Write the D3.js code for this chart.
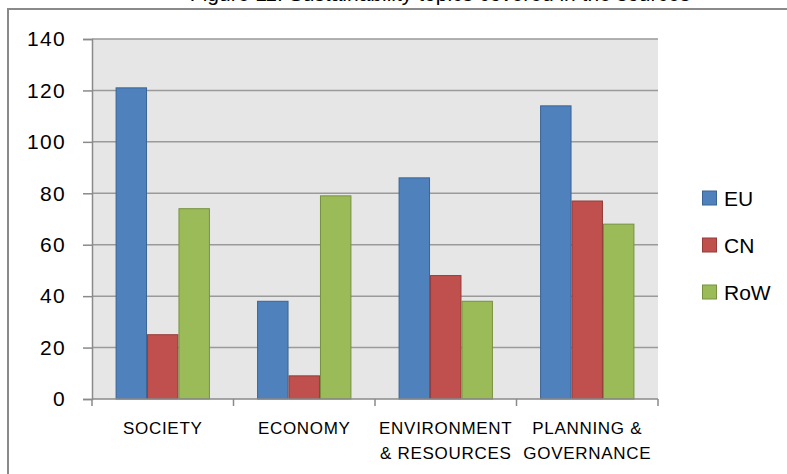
<!DOCTYPE html>
<html>
<head>
<meta charset="utf-8">
<script src="https://cdn.jsdelivr.net/npm/d3@7"></script>
<style>
  html, body { margin: 0; padding: 0; background: #ffffff; }
  svg { display: block; }
</style>
</head>
<body>
<svg id="chart" width="787" height="474"></svg>
<script>
// Sustainability topics by source region
const categories = ["SOCIETY", "ECONOMY", "ENVIRONMENT\n& RESOURCES", "PLANNING &\nGOVERNANCE"];
const seriesNames = ["EU", "CN", "RoW"];
const euValues  = [121, 38, 86, 114];
const cnValues  = [25, 9, 48, 77];
const rowValues = [74, 79, 38, 68];
const yTicks = [0, 20, 40, 60, 80, 100, 120, 140];
const titleText = "Figure 11: Sustainability topics covered in the sources";

const fills   = ["#4f81bd", "#c0504d", "#9bbb59"];
const strokes = ["#3a6494", "#943c3a", "#76913f"];
const seriesValues = [euValues, cnValues, rowValues];

const svg = d3.select("#chart");
const plot = { left: 92, right: 658, top: 39, bottom: 399 };

// Title (sits above the frame, only its lower edge shows)
svg.append("text")
  .attr("x", 440).attr("y", 1)
  .attr("text-anchor", "middle")
  .attr("font-family", "Liberation Sans, Arial, sans-serif")
  .attr("font-size", 21)
  .attr("fill", "#000")
  .text(titleText);

// Outer frame
svg.append("path")
  .attr("d", "M8,480 L8,9 L800,9")
  .attr("fill", "none")
  .attr("stroke", "#8a8a8a")
  .attr("stroke-width", 2);

const y = d3.scaleLinear().domain([0, 140]).range([plot.bottom, plot.top]);
const x0 = d3.scaleBand().domain(categories).range([plot.left, plot.right]).paddingInner(0).paddingOuter(0);
const x1 = d3.scaleBand().domain(seriesNames).range([0, x0.bandwidth()]).paddingInner(0).paddingOuter(0.75);

// Plot background
svg.append("rect")
  .attr("x", plot.left).attr("y", plot.top)
  .attr("width", plot.right - plot.left).attr("height", plot.bottom - plot.top)
  .attr("fill", "#e6e6e6");

// Horizontal gridlines
svg.append("g")
  .selectAll("line")
  .data(yTicks.filter(d => d > 0))
  .join("line")
  .attr("x1", plot.left).attr("x2", plot.right)
  .attr("y1", d => y(d)).attr("y2", d => y(d))
  .attr("stroke", "#9a9a9a")
  .attr("stroke-width", 1.5);

// Bars
const groups = svg.append("g")
  .selectAll("g")
  .data(categories)
  .join("g")
  .attr("transform", d => `translate(${x0(d)},0)`);

groups.selectAll("rect")
  .data((c, ci) => seriesNames.map((s, si) => ({ s, si, v: seriesValues[si][ci] })))
  .join("rect")
  .attr("x", d => x1(d.s) + 0.5)
  .attr("y", d => y(d.v))
  .attr("width", x1.bandwidth() - 1)
  .attr("height", d => y(0) - y(d.v))
  .attr("fill", d => fills[d.si])
  .attr("stroke", d => strokes[d.si])
  .attr("stroke-width", 1);

// Y axis
const yAxis = svg.append("g")
  .attr("transform", `translate(${plot.left},0)`)
  .call(d3.axisLeft(y).tickValues(yTicks).tickSize(9).tickPadding(17).tickFormat(d3.format("d")));
yAxis.select(".domain").attr("stroke", "#8a8a8a").attr("stroke-width", 1.5);
yAxis.selectAll(".tick line").attr("stroke", "#8a8a8a").attr("stroke-width", 1.5);
yAxis.selectAll(".tick text")
  .attr("font-family", "Liberation Sans, Arial, sans-serif")
  .attr("font-size", 21)
  .attr("letter-spacing", 1.3)
  .attr("fill", "#000");

// X axis line and category boundary ticks
svg.append("line")
  .attr("x1", plot.left).attr("x2", plot.right)
  .attr("y1", plot.bottom).attr("y2", plot.bottom)
  .attr("stroke", "#8a8a8a").attr("stroke-width", 1.5);
const boundaries = categories.map(c => x0(c)).concat([x0(categories[categories.length - 1]) + x0.bandwidth()]);
svg.append("g")
  .selectAll("line")
  .data(boundaries)
  .join("line")
  .attr("x1", d => d).attr("x2", d => d)
  .attr("y1", plot.bottom).attr("y2", plot.bottom + 7)
  .attr("stroke", "#8a8a8a").attr("stroke-width", 1.5);

// Category labels
const xl = svg.append("g")
  .selectAll("text")
  .data(categories)
  .join("text")
  .attr("x", d => x0(d) + x0.bandwidth() / 2)
  .attr("y", 434)
  .attr("text-anchor", "middle")
  .attr("font-family", "Liberation Sans, Arial, sans-serif")
  .attr("font-size", 17)
  .attr("letter-spacing", 0.7)
  .attr("fill", "#000");
xl.each(function(d) {
  const lines = d.split("\n");
  d3.select(this).selectAll("tspan")
    .data(lines)
    .join("tspan")
    .attr("x", x0(d) + x0.bandwidth() / 2)
    .attr("dy", (l, i) => i === 0 ? 0 : 25)
    .text(l => l);
});

// Legend
const legend = svg.append("g")
  .selectAll("g")
  .data(seriesNames)
  .join("g")
  .attr("transform", (d, i) => `translate(702,${206 + i * 47})`);
legend.append("rect")
  .attr("x", 0.5).attr("y", -15)
  .attr("width", 14).attr("height", 14)
  .attr("fill", (d, i) => fills[i])
  .attr("stroke", (d, i) => strokes[i])
  .attr("stroke-width", 1);
legend.append("text")
  .attr("x", 22).attr("y", 0)
  .attr("font-family", "Liberation Sans, Arial, sans-serif")
  .attr("font-size", 21)
  .attr("fill", "#000")
  .text(d => d);
</script>
</body>
</html>
